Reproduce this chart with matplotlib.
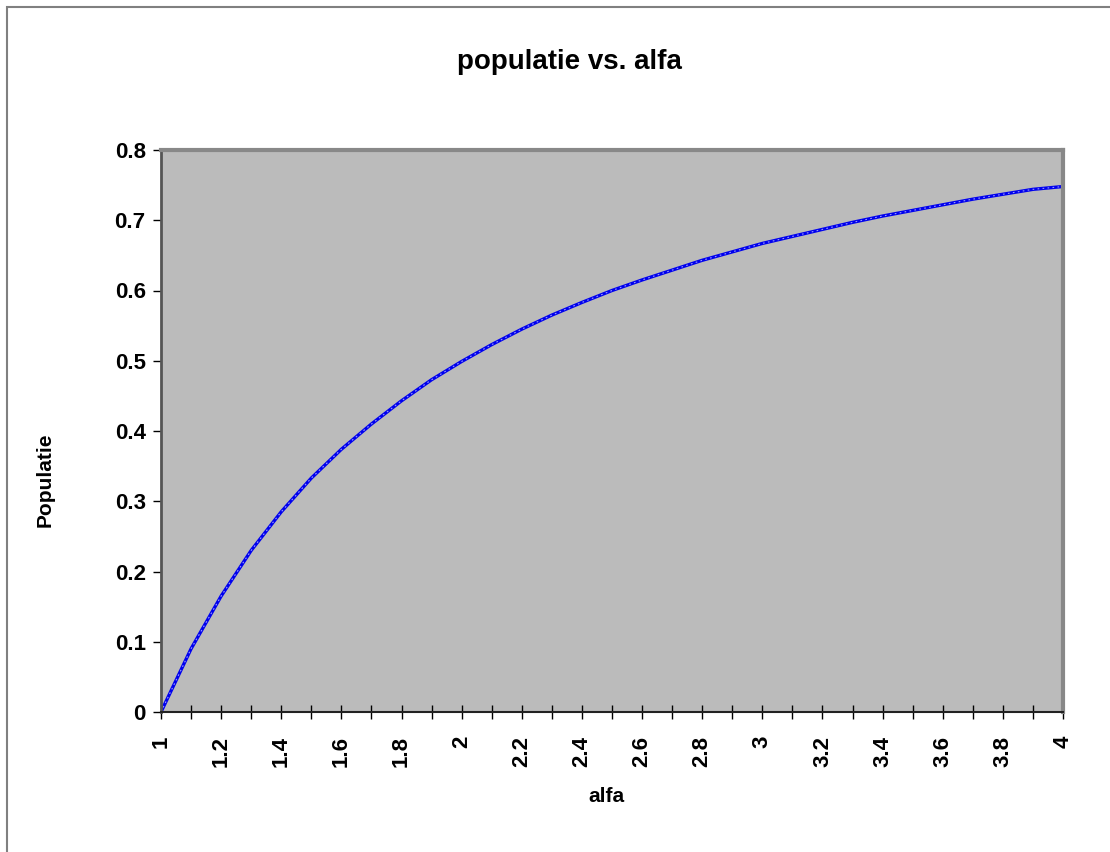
import numpy as np
import matplotlib.pyplot as plt
from matplotlib.ticker import MultipleLocator
from matplotlib.patches import Rectangle

# values
alfa = [1.0, 1.1, 1.2, 1.3, 1.4, 1.5, 1.6, 1.7, 1.8, 1.9, 2.0,
        2.1, 2.2, 2.3, 2.4, 2.5, 2.6, 2.7, 2.8, 2.9, 3.0,
        3.1, 3.2, 3.3, 3.4, 3.5, 3.6, 3.7, 3.8, 3.9, 4.0]
populatie = [0.0, 0.09, 0.165, 0.23, 0.285, 0.333, 0.374, 0.41, 0.443, 0.473, 0.499,
             0.523, 0.545, 0.565, 0.583, 0.6, 0.615, 0.629, 0.643, 0.655, 0.667,
             0.677, 0.687, 0.697, 0.706, 0.714, 0.722, 0.73, 0.737, 0.744, 0.748]

xticks = [1, 1.2, 1.4, 1.6, 1.8, 2, 2.2, 2.4, 2.6, 2.8, 3, 3.2, 3.4, 3.6, 3.8, 4]
xticklabels = ['1', '1.2', '1.4', '1.6', '1.8', '2', '2.2', '2.4', '2.6', '2.8',
               '3', '3.2', '3.4', '3.6', '3.8', '4']
yticks = [0, 0.1, 0.2, 0.3, 0.4, 0.5, 0.6, 0.7, 0.8]
yticklabels = ['0', '0.1', '0.2', '0.3', '0.4', '0.5', '0.6', '0.7', '0.8']

plt.rcParams['font.family'] = ['Liberation Sans', 'DejaVu Sans']

fig = plt.figure(figsize=(11.1, 8.52), dpi=100)
# outer chart border
fig.patches.append(Rectangle((7/1110, -0.1), 1.2, (1 - 7/852) + 0.1,
                             transform=fig.transFigure, fill=False,
                             edgecolor='#808080', linewidth=1.5))

ax = fig.add_axes([161/1110, 1 - 712/852, (1063 - 161)/1110, (712 - 150)/852])
ax.set_facecolor('#bbbbbb')

ax.plot(alfa, populatie, color='#0000ee', linewidth=2.4, solid_capstyle='butt')
ax.plot(alfa, populatie, color='#9999ff', linewidth=0.8, linestyle=(0, (1.5, 3)))

ax.set_xlim(1, 4)
ax.set_ylim(0, 0.8)
ax.set_xticks(xticks)
ax.set_xticklabels(xticklabels, rotation=90, fontsize=16, fontweight='bold')
ax.xaxis.set_minor_locator(MultipleLocator(0.1))
ax.set_yticks(yticks)
ax.set_yticklabels(yticklabels, fontsize=16, fontweight='bold')

ax.tick_params(axis='x', which='both', direction='inout', length=10, width=1, pad=12)
ax.tick_params(axis='y', direction='out', length=6, width=1, pad=5)

ax.spines['left'].set_color('#555555')
ax.spines['left'].set_linewidth(2)
ax.spines['bottom'].set_color('#222222')
ax.spines['bottom'].set_linewidth(1.5)
for s in ['top', 'right']:
    ax.spines[s].set_color('#888888')
    ax.spines[s].set_linewidth(3)

fig.text(569/1110, 1 - 62/852, 'populatie vs. alfa', fontsize=20, fontweight='bold',
         ha='center', va='center')
ax.set_xlabel('alfa', fontsize=15, fontweight='bold')
ax.xaxis.set_label_coords((606 - 161)/902, (712 - 797)/562)
ax.xaxis.label.set_va('center')
ax.set_ylabel('Populatie', fontsize=15, fontweight='bold')
ax.yaxis.set_label_coords((45 - 161)/902, (712 - 480)/562)
ax.yaxis.label.set_va('center')

fig.savefig('out.png', dpi=100)
